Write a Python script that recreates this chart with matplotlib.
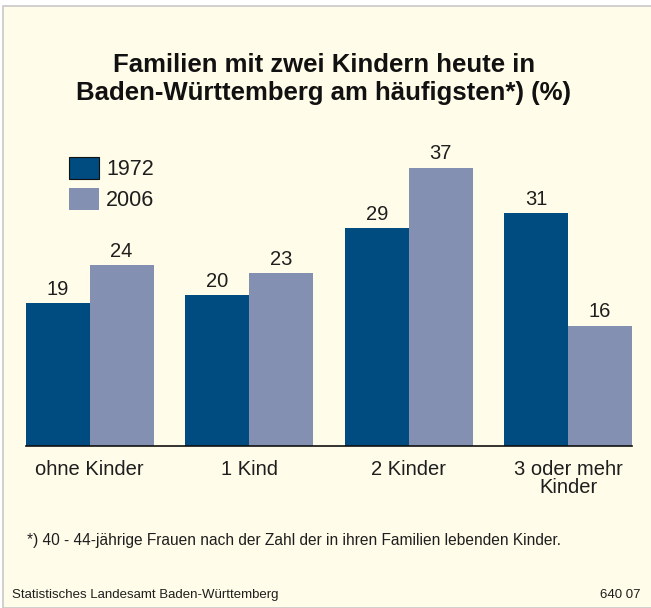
import matplotlib.pyplot as plt
from matplotlib.patches import Patch, Rectangle
import numpy as np

plt.rcParams['font.family'] = ['Liberation Sans', 'DejaVu Sans']

categories = ['ohne Kinder', '1 Kind', '2 Kinder', '3 oder mehr\nKinder']
years = ['1972', '2006']
v1972 = [19, 20, 29, 31]
v2006 = [24, 23, 37, 16]

dark = '#004b80'
light = '#8390b2'
bg = '#fffce9'
txt = '#1e1e1e'

W, H = 651, 608
fig = plt.figure(figsize=(W / 100, H / 100), dpi=100, facecolor='white')

# cream panel with thin grey border
fig.patches.append(Rectangle((3 / W, 0), 1, 1 - 6 / H, transform=fig.transFigure,
                             facecolor=bg, edgecolor='#c8c8c8', lw=1.2, zorder=-10))

ax = fig.add_axes([26 / W, (H - 446) / H, (632 - 26) / W, 301 / H])
ax.set_facecolor('none')
ax.set_zorder(2)

x = np.arange(len(categories))
w = 0.4
b1 = ax.bar(x - w / 2, v1972, w, color=dark)
b2 = ax.bar(x + w / 2, v2006, w, color=light)

for bars, vals in ((b1, v1972), (b2, v2006)):
    for r, v in zip(bars, vals):
        ax.annotate(str(v), (r.get_x() + r.get_width() / 2, v), xytext=(0, 3),
                    textcoords='offset points', ha='center', va='bottom',
                    fontsize=14.5, color=txt)

ax.set_xlim(-0.4, 3.4)
ax.set_ylim(0, 40)
ax.set_yticks([])
ax.set_xticks(x)
ax.set_xticklabels(categories, fontsize=14.5, color=txt, linespacing=0.95)
ax.tick_params(axis='x', length=0, pad=10)
for s in ['top', 'left', 'right']:
    ax.spines[s].set_visible(False)
ax.spines['bottom'].set_linewidth(1.2)
ax.spines['bottom'].set_color('#111111')

handles = [Patch(facecolor=dark, edgecolor='#111111', lw=0.8),
           Patch(facecolor=light, edgecolor='none')]
ax.legend(handles, years, loc='upper left', bbox_to_anchor=(69 / W, 1 - 157 / H),
          bbox_transform=fig.transFigure, frameon=False, fontsize=15.5,
          handlelength=1.4, handleheight=1.16, handletextpad=0.33,
          labelspacing=0.37, borderpad=0, borderaxespad=0, labelcolor=txt)

fig.text(324 / W, 1 - 79 / H, 'Familien mit zwei Kindern heute in\nBaden-Württemberg am häufigsten*) (%)',
         ha='center', va='center', fontsize=18.5, fontweight='bold', color='#111111',
         linespacing=1.2)

fig.text(27 / W, 1 - 541 / H, '*) 40 - 44-jährige Frauen nach der Zahl der in ihren Familien lebenden Kinder.',
         ha='left', va='center', fontsize=11.2, color=txt)
fig.text(12 / W, 1 - 595 / H, 'Statistisches Landesamt Baden-Württemberg',
         ha='left', va='center', fontsize=9.5, color=txt)
fig.text(640 / W, 1 - 595 / H, '640 07', ha='right', va='center', fontsize=9.5, color=txt)

fig.savefig('out.png', dpi=100, facecolor=fig.get_facecolor())
